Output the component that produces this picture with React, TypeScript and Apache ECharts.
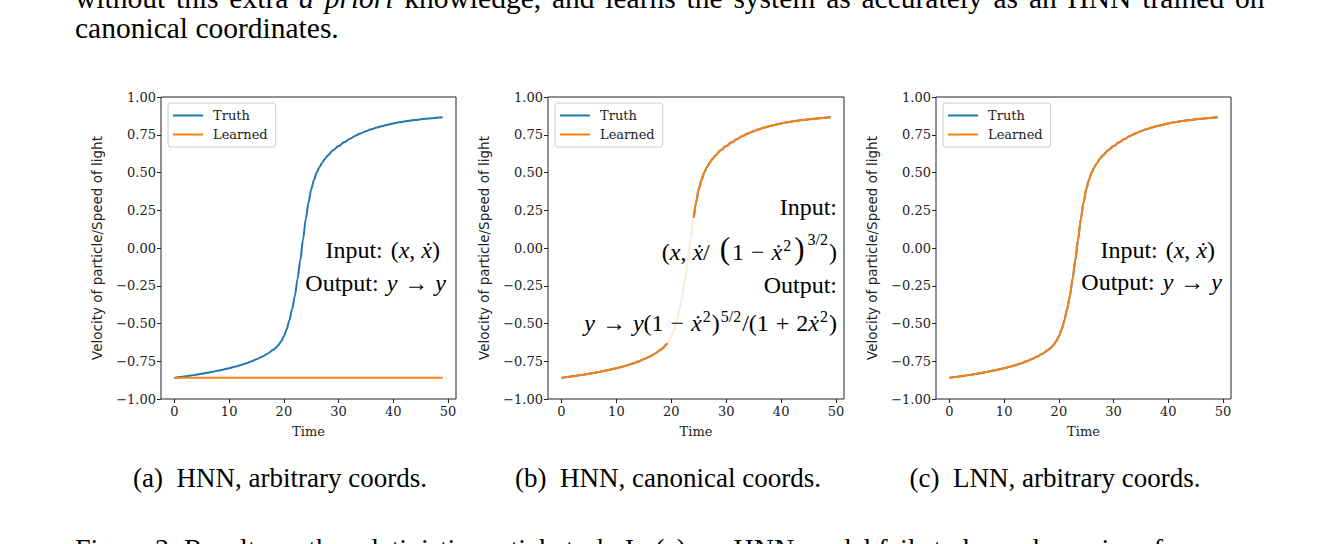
import React, { useEffect, useRef } from "react";
import * as echarts from "echarts";

// ---------- data ----------
const TIME = [
  0, 1, 2, 3, 4, 5, 6, 7, 8, 9, 10, 11, 12, 13, 14, 15, 16, 17, 18, 18.5, 19, 19.5,
  20, 20.5, 21, 21.5, 22, 22.5, 23, 23.5, 24, 24.5, 25, 25.5, 26, 26.5, 27, 27.5,
  28, 29, 30, 31, 32, 33, 34, 35, 36, 37, 38, 39, 40, 41, 42, 43, 44, 45, 46, 47, 48, 49,
];
const TRUTH = [
  -0.86, -0.855, -0.85, -0.845, -0.839, -0.833, -0.826, -0.819, -0.812, -0.804, -0.796,
  -0.787, -0.777, -0.765, -0.752, -0.737, -0.72, -0.7, -0.676, -0.662, -0.643, -0.618,
  -0.585, -0.54, -0.48, -0.405, -0.32, -0.205, -0.08, 0.055, 0.19, 0.3, 0.39, 0.45,
  0.5, 0.535, 0.565, 0.59, 0.612, 0.647, 0.675, 0.7, 0.722, 0.742, 0.759, 0.774,
  0.787, 0.798, 0.808, 0.817, 0.825, 0.832, 0.838, 0.843, 0.848, 0.852, 0.856, 0.86,
  0.863, 0.866,
];
// (a) HNN on arbitrary coords: learned trajectory stays flat
const LEARNED_A_TIME = [0, 49];
const LEARNED_A = [-0.86, -0.86];
// (b), (c): learned trajectory overlaps the truth
const LEARNED_B = TRUTH;
const LEARNED_C = TRUTH;

const X_TICKS = [0, 10, 20, 30, 40, 50];
const Y_MIN = -1;
const Y_MAX = 1;
const Y_STEP = 0.25;
const SERIES_NAMES = ["Truth", "Learned"];
const CAPTIONS = [
  "(a)  HNN, arbitrary coords.",
  "(b)  HNN, canonical coords.",
  "(c)  LNN, arbitrary coords.",
];
const LINE1_WORDS = [
  ["without", false], ["this", false], ["extra", false], ["a", true], ["priori", true],
  ["knowledge,", false], ["and", false], ["learns", false], ["the", false], ["system", false],
  ["as", false], ["accurately", false], ["as", false], ["an", false], ["HNN", false],
  ["trained", false], ["on", false],
] as [string, boolean][];

// ---------- styling ----------
const BLUE = "#1f77b4";
const ORANGE = "#ff7f0e";
const INK = "#222";
const GRIDS = [
  { left: 161, width: 295 },
  { left: 548, width: 296 },
  { left: 936, width: 295 },
];
const CAPTION_CENTERS = [280, 668, 1055];
const GRID_TOP = 97;
const GRID_H = 302;

const pair = (xs: number[], ys: number[]) => xs.map((x, i) => [x, ys[i]]);

const fmtY = (v: number) => (v < 0 ? "\u2212" : "") + Math.abs(v).toFixed(2);

const FS = 24;
const base = { fontFamily: "Liberation Serif", fontSize: FS, lineHeight: 28, verticalAlign: "bottom", fill: "#000" };
const MATH_RICH = {
  rm: { ...base },
  it: { ...base, fontStyle: "italic" },
  op: { ...base, padding: [0, 7, 0, 7] },
  bp: { ...base, fontSize: 31, lineHeight: 32, padding: [0, 2, 0, 2] },
  sup: { ...base, fontSize: 16, lineHeight: 16, padding: [0, 1, 11, 1] },
  supb: { ...base, fontSize: 16, lineHeight: 16, padding: [0, 1, 17, 1] },
  sp: { ...base, width: 8 },
};

function mathText(x: number, y: number, text: string) {
  return {
    type: "text",
    x,
    y,
    z: 110,
    style: { text, rich: MATH_RICH, align: "right", verticalAlign: "middle", fill: "#000" },
  };
}

export default function App() {
  const ref = useRef<HTMLDivElement>(null);

  useEffect(() => {
    if (!ref.current) return;
    const chart = echarts.init(ref.current, undefined, { renderer: "svg" });

    const grid = GRIDS.map((g) => ({
      left: g.left,
      top: GRID_TOP,
      width: g.width,
      height: GRID_H,
      show: true,
      borderColor: INK,
      borderWidth: 1,
      backgroundColor: "#fff",
    }));

    const xAxis = GRIDS.map((_, i) => ({
      type: "value",
      gridIndex: i,
      min: -2.45,
      max: 51.45,
      name: "Time",
      nameLocation: "middle",
      nameGap: 26,
      nameTextStyle: { fontFamily: "DejaVu Serif", fontSize: 13, color: INK },
      axisLine: { show: false, onZero: false },
      axisTick: { show: true, length: 4, lineStyle: { color: INK }, customValues: X_TICKS },
      axisLabel: {
        fontFamily: "DejaVu Serif",
        fontSize: 13,
        color: INK,
        margin: 6,
        customValues: X_TICKS,
        formatter: (v: number) => String(v),
      },
      splitLine: { show: false },
    }));

    const yAxis = GRIDS.map((_, i) => ({
      type: "value",
      gridIndex: i,
      min: Y_MIN,
      max: Y_MAX,
      interval: Y_STEP,
      name: "Velocity of particle/Speed of light",
      nameLocation: "middle",
      nameGap: 57,
      nameTextStyle: { fontFamily: "DejaVu Sans", fontSize: 13.5, color: INK },
      axisLine: { show: false, onZero: false },
      axisTick: { show: true, length: 4, lineStyle: { color: INK } },
      axisLabel: { fontFamily: "DejaVu Serif", fontSize: 13, color: INK, margin: 5, formatter: fmtY },
      splitLine: { show: false },
    }));

    const mk = (name: string, idx: number, data: number[][], color: string, z: number) => ({
      name,
      type: "line",
      xAxisIndex: idx,
      yAxisIndex: idx,
      data,
      showSymbol: false,
      symbol: "none",
      smooth: 0.3,
      smoothMonotone: "x",
      z,
      lineStyle: { color, width: 2 },
      itemStyle: { color },
    });

    const series = [
      mk("Truth", 0, pair(TIME, TRUTH), BLUE, 2),
      mk("Learned", 0, pair(LEARNED_A_TIME, LEARNED_A), ORANGE, 3),
      mk("Truth", 1, pair(TIME, TRUTH), BLUE, 2),
      mk("Learned", 1, pair(TIME, LEARNED_B), ORANGE, 3),
      mk("Truth", 2, pair(TIME, TRUTH), BLUE, 2),
      mk("Learned", 2, pair(TIME, LEARNED_C), ORANGE, 3),
    ];

    const legend = GRIDS.map((g) => ({
      left: g.left + 7,
      top: GRID_TOP + 6,
      orient: "vertical",
      data: SERIES_NAMES,
      icon: "rect",
      itemWidth: 30,
      itemHeight: 2,
      itemGap: 4,
      padding: [5, 8, 5, 5],
      borderColor: "#ccc",
      borderWidth: 1,
      borderRadius: 3,
      backgroundColor: "rgba(255,255,255,0.8)",
      selectedMode: false,
      textStyle: {
        fontFamily: "DejaVu Serif",
        fontSize: 13,
        color: INK,
        lineHeight: 15,
        padding: [0, 0, 0, 5],
      },
    }));

    const line1 = LINE1_WORDS.map(([w, ital]) => `{${ital ? "i" : "r"}|${w}}`).join("{s| }");

    const graphic: any[] = [
      {
        type: "text",
        x: 75,
        y: -2,
        z: 100,
        style: {
          text: line1,
          rich: {
            r: { fontFamily: "Liberation Serif", fontSize: 29.5, fill: "#000" },
            i: { fontFamily: "Liberation Serif", fontSize: 29.5, fontStyle: "italic", fill: "#000" },
            s: { fontFamily: "Liberation Serif", fontSize: 29.5, width: 10.8 },
          },
          verticalAlign: "middle",
        },
      },
      {
        type: "text",
        x: 75,
        y: 28,
        z: 100,
        style: {
          text: "canonical coordinates.",
          font: "29.5px 'Liberation Serif'",
          fill: "#000",
          verticalAlign: "middle",
        },
      },
      {
        type: "text",
        x: 75,
        y: 548,
        z: 100,
        style: {
          text: "Figure 3: Results on the relativistic particle task. In (a), an HNN model fails to learn dynamics of",
          font: "28px 'Liberation Serif'",
          fill: "#000",
          verticalAlign: "middle",
        },
      },
      ...CAPTIONS.map((c, i) => ({
        type: "text",
        x: CAPTION_CENTERS[i],
        y: 478,
        z: 100,
        style: {
          text: c,
          font: "27px 'Liberation Serif'",
          fill: "#000",
          align: "center",
          verticalAlign: "middle",
        },
      })),
      // (a)
      mathText(440, 248, "{rm|Input:}{sp| }{rm|(}{it|x}{rm|, }{it|ẋ}{rm|)}"),
      mathText(446, 281, "{rm|Output:}{sp| }{it|y}{op|→}{it|y}"),
      // (b) translucent text box
      {
        type: "rect",
        z: 105,
        shape: { x: 600, y: 218, width: 242, height: 125 },
        style: { fill: "rgba(255,255,255,0.85)" },
      },
      mathText(837, 205, "{rm|Input:}"),
      mathText(
        837,
        248,
        "{rm|(}{it|x}{rm|, }{it|ẋ}{rm|/}{sp| }{bp|(}{rm|1}{op|−}{it|ẋ}{sup|2}{bp|)}{supb|3/2}{rm|)}"
      ),
      mathText(837, 283, "{rm|Output:}"),
      mathText(
        837,
        321,
        "{it|y}{op|→}{it|y}{rm|(1}{op|−}{it|ẋ}{sup|2}{rm|)}{sup|5/2}{rm|/(1}{op|+}{rm|2}{it|ẋ}{sup|2}{rm|)}"
      ),
      // (c)
      mathText(1215, 248, "{rm|Input:}{sp| }{rm|(}{it|x}{rm|, }{it|ẋ}{rm|)}"),
      mathText(1222, 280, "{rm|Output:}{sp| }{it|y}{op|→}{it|y}"),
    ];

    chart.setOption({
      animation: false,
      backgroundColor: "#fff",
      grid,
      xAxis,
      yAxis,
      legend,
      series,
      graphic,
    });

    return () => chart.dispose();
  }, []);

  return (
    <div
      ref={ref}
      style={{ position: "fixed", left: 0, top: 0, width: 1336, height: 544, background: "#fff" }}
    />
  );
}
